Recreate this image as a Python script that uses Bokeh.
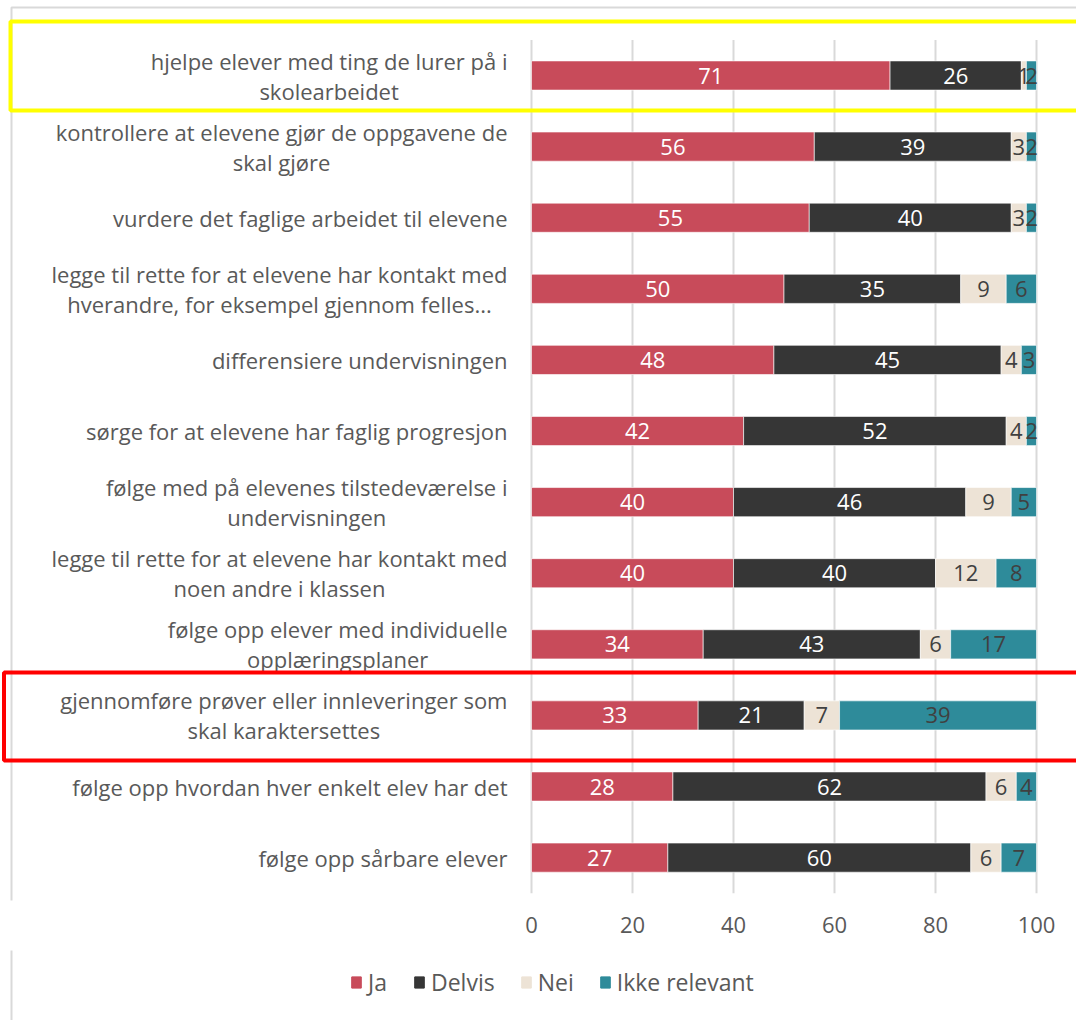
import glob
import os
import subprocess

from bokeh.plotting import figure
from bokeh.layouts import column
from bokeh.models import (ColumnDataSource, Range1d, FixedTicker,
                          Legend, LegendItem, BoxAnnotation)
from bokeh.core.properties import value
from bokeh.embed import file_html
from bokeh.resources import INLINE

categories = [
    "hjelpe elever med ting de lurer på i\nskolearbeidet",
    "kontrollere at elevene gjør de oppgavene de\nskal gjøre",
    "vurdere det faglige arbeidet til elevene",
    "legge til rette for at elevene har kontakt med\nhverandre, for eksempel gjennom felles...",
    "differensiere undervisningen",
    "sørge for at elevene har faglig progresjon",
    "følge med på elevenes tilstedeværelse i\nundervisningen",
    "legge til rette for at elevene har kontakt med\nnoen andre i klassen",
    "følge opp elever med individuelle\nopplæringsplaner",
    "gjennomføre prøver eller innleveringer som\nskal karaktersettes",
    "følge opp hvordan hver enkelt elev har det",
    "følge opp sårbare elever",
]
ja = [71, 56, 55, 50, 48, 42, 40, 40, 34, 33, 28, 27]
delvis = [26, 39, 40, 35, 45, 52, 46, 40, 43, 21, 62, 60]
nei = [1, 3, 3, 9, 4, 4, 9, 12, 6, 7, 6, 6]
ikke_relevant = [2, 2, 2, 6, 3, 2, 5, 8, 17, 39, 4, 7]
series_names = ["Ja", "Delvis", "Nei", "Ikke relevant"]
x_ticks = [0, 20, 40, 60, 80, 100]

colors = ["#C84B5A", "#363636", "#EDE3D6", "#2E8B9A"]
label_colors = ["#FFFFFF", "#FFFFFF", "#404040", "#404040"]
FONT = "Open Sans"
CAT_SIZE = 22
TXT = "#595959"

N = len(categories)
ypos = list(range(N))
keys = ["ja", "delvis", "nei", "ikke"]
source = ColumnDataSource(dict(y=ypos, ja=ja, delvis=delvis,
                               nei=nei, ikke=ikke_relevant))


# ---- text measuring (to centre wrapped lines inside a right-aligned block)
def _find_font():
    try:
        out = subprocess.run(["fc-match", "-f", "%{file}", "Open Sans:style=Regular"],
                             capture_output=True, text=True, timeout=10).stdout.strip()
        if out and "OpenSans" in os.path.basename(out).replace(" ", ""):
            return out
    except Exception:
        pass
    cands = []
    for root in ["/usr/share/fonts", "/usr/local/share/fonts",
                 os.path.expanduser("~/.fonts"), os.path.expanduser("~/.local/share/fonts")]:
        cands += glob.glob(os.path.join(root, "**", "OpenSans*.ttf"), recursive=True)
    cands = [c for c in cands if "Italic" not in c and "Bold" not in c
             and "Semi" not in c and "Light" not in c and "Extra" not in c
             and "Condensed" not in c and "Medium" not in c]
    cands.sort(key=lambda c: (0 if "Regular" in c else 1, len(c)))
    return cands[0] if cands else None


_measure = None
try:
    from PIL import ImageFont
    _fp = _find_font()
    if _fp:
        _f = ImageFont.truetype(_fp, CAT_SIZE)
        _measure = lambda s: _f.getlength(s)
except Exception:
    _measure = None


def box(l, t, r, b, color, w):
    return BoxAnnotation(left=l, right=r, top=t, bottom=b,
                         left_units="canvas", right_units="canvas",
                         top_units="canvas", bottom_units="canvas",
                         fill_alpha=0, line_color=color, line_alpha=1.0,
                         line_width=w)


# ---------------- main chart ----------------
p = figure(width=1076, height=950,
           x_range=Range1d(-105.15, 107.92),
           y_range=Range1d(11.603, -1.055),
           y_axis_location=None,
           output_backend="svg", toolbar_location=None,
           min_border_left=0, min_border_right=0,
           min_border_top=0, min_border_bottom=50)
p.outline_line_color = None
p.xgrid.visible = False
p.ygrid.visible = False

# vertical gridlines, spanning the category band
grid_src = ColumnDataSource(dict(x=x_ticks, y0=[-0.5] * len(x_ticks),
                                 y1=[N - 0.5] * len(x_ticks)))
p.segment(x0="x", y0="y0", x1="x", y1="y1", source=grid_src,
          line_color="#d9d9d9", line_width=2)

renderers = p.hbar_stack(keys, y="y", height=0.41, color=colors,
                         line_color="white", line_alpha=0.6, line_width=1,
                         source=source)

# category labels: right-aligned block, wrapped lines centred in the block
STANDOFF = 24
LINE_GAP = 30
cy, ct, cxo, cyo = [], [], [], []
for i, cat in enumerate(categories):
    lines = cat.split("\n")
    n = len(lines)
    wmax = max(_measure(l) for l in lines) if _measure else 0
    for k, line in enumerate(lines):
        cy.append(ypos[i])
        ct.append(line)
        cxo.append(-STANDOFF - wmax / 2 if _measure else -STANDOFF)
        cyo.append((k - (n - 1) / 2) * LINE_GAP)
cat_src = ColumnDataSource(dict(y=cy, t=ct, xo=cxo, yo=cyo))
p.text(x=0, y="y", text="t", source=cat_src, x_offset="xo", y_offset="yo",
       text_align="center" if _measure else "right", text_baseline="middle",
       text_font=value(FONT), text_font_size=f"{CAT_SIZE}px", text_color=TXT)

# value labels
lx, ly, lt, lc = [], [], [], []
series = [ja, delvis, nei, ikke_relevant]
for i in range(N):
    left = 0
    for s, vals in enumerate(series):
        v = vals[i]
        lx.append(left + v / 2)
        ly.append(ypos[i])
        lt.append(str(v))
        lc.append(label_colors[s])
        left += v
lab_src = ColumnDataSource(dict(x=lx, y=ly, t=lt, c=lc))
p.text(x="x", y="y", text="t", text_color="c", source=lab_src,
       text_align="center", text_baseline="middle",
       text_font=value(FONT), text_font_size="22px")

# x axis
p.xaxis.ticker = FixedTicker(ticks=x_ticks)
ax = p.xaxis[0]
ax.axis_line_color = None
ax.major_tick_line_color = None
ax.minor_tick_line_color = None
ax.major_tick_out = 0
ax.major_label_text_font = FONT
ax.major_label_text_font_size = "22px"
ax.major_label_text_color = TXT
ax.major_label_standoff = 16

border = box(11, 7, 1100, 1100, "#d9d9d9", 2)
border.level = "underlay"
p.add_layout(border)
p.add_layout(box(10, 21, 1100, 110, "#ffff00", 4))
p.add_layout(box(3.5, 672, 1100, 760, "#ff0000", 4))

# ---------------- legend strip ----------------
q = figure(width=1076, height=70, x_range=Range1d(0, 1), y_range=Range1d(0, 1),
           x_axis_location=None, y_axis_location=None,
           output_backend="svg", toolbar_location=None,
           min_border_left=0, min_border_right=0,
           min_border_top=0, min_border_bottom=0)
q.outline_line_color = None
q.xgrid.visible = False
q.ygrid.visible = False
# swatch-only renderers (their single row lies outside the visible range)
swatches = [q.hbar(y=[-5], left=[0], right=[0], height=0.5, color=c)
            for c in colors]
items = [LegendItem(label=n, renderers=[r]) for n, r in zip(series_names, swatches)]
legend = Legend(items=items, orientation="horizontal", location=(350, 22),
                label_text_font=FONT, label_text_font_size="23px",
                label_text_color=TXT, glyph_width=12, glyph_height=14,
                spacing=25, label_standoff=6, padding=0, margin=0,
                border_line_color=None, background_fill_alpha=0)
q.add_layout(legend)
lb = box(11, -10, 1100, 1100, "#d9d9d9", 2)
lb.level = "underlay"
q.add_layout(lb)

layout = column(p, q, spacing=0)
open("out.html", "w").write(file_html(layout, INLINE))
